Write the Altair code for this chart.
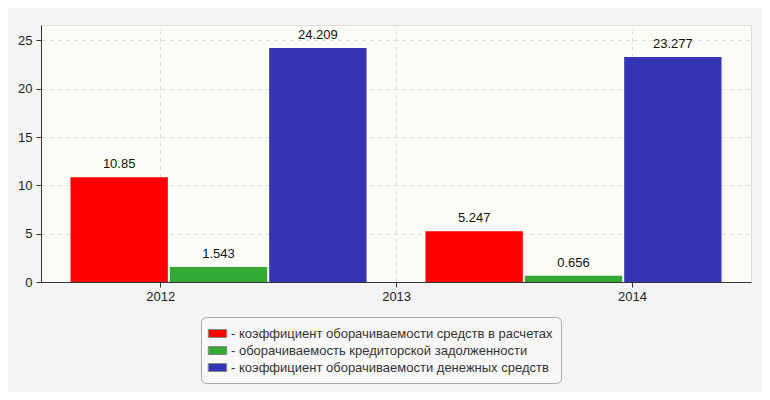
import altair as alt
import pandas as pd

periods = ["2012–2013", "2013–2014"]
series = [
    "коэффициент оборачиваемости средств в расчетах",
    "оборачиваемость кредиторской задолженности",
    "коэффициент оборачиваемости денежных средств",
]
values_p1 = [10.85, 1.543, 24.209]
values_p2 = [5.247, 0.656, 23.277]
labels_p1 = ["10.85", "1.543", "24.209"]
labels_p2 = ["5.247", "0.656", "23.277"]
axis_years = [2012, 2013, 2014]
y_ticks = [0, 5, 10, 15, 20, 25]
colors = ["#ff0000", "#33aa33", "#3535b5"]

legend_names = ["- " + s for s in series]
rows = []
for p, vals, labs in [(periods[0], values_p1, labels_p1), (periods[1], values_p2, labels_p2)]:
    for s, v, l in zip(legend_names, vals, labs):
        rows.append({"period": p, "series": s, "value": v, "label": l})
df = pd.DataFrame(rows)

FONT = "Liberation Sans"

x_band = alt.X(
    "period:N", sort=periods, axis=None,
    scale=alt.Scale(paddingInner=0.166, paddingOuter=0.083),
)
x_off = alt.XOffset(
    "series:N", sort=legend_names,
    scale=alt.Scale(paddingInner=0.02, paddingOuter=0),
)
y_enc = alt.Y(
    "value:Q",
    scale=alt.Scale(domain=[0, 26.6], nice=False),
    axis=alt.Axis(values=y_ticks, title=None, grid=True, gridDash=[4, 4],
                  gridColor="#dddddd", domainColor="#333333", tickColor="#333333",
                  tickSize=5, labelPadding=4, labelFontSize=13, labelFont=FONT,
                  labelColor="#222222"),
)

bars = alt.Chart(df).mark_bar().encode(
    x=x_band,
    xOffset=x_off,
    y=y_enc,
    color=alt.Color(
        "series:N", sort=legend_names,
        scale=alt.Scale(domain=legend_names, range=colors),
        legend=alt.Legend(
            title=None, orient="none", legendX=160, legendY=292,
            fillColor="#f8f8f8", strokeColor="#aaaaaa", cornerRadius=5, padding=8,
            symbolType="M-1.15,-0.5L1.15,-0.5L1.15,0.5L-1.15,0.5Z", symbolSize=256,
            symbolStrokeColor="#888888", symbolStrokeWidth=1,
            labelFontSize=13, labelFont=FONT, labelColor="#333333",
            labelLimit=600, labelOffset=5, rowPadding=1,
        ),
    ),
)

text = alt.Chart(df).mark_text(
    dy=-9, baseline="alphabetic", fontSize=13, font=FONT, color="#111111"
).encode(
    x=x_band,
    xOffset=x_off,
    y=alt.Y("value:Q"),
    text="label:N",
)

axis_layer = alt.Chart(pd.DataFrame({"year": axis_years})).mark_point(opacity=0).encode(
    x=alt.X(
        "year:Q",
        scale=alt.Scale(domain=[2011.494, 2014.505], nice=False, zero=False),
        axis=alt.Axis(values=axis_years, format="d", orient="bottom", title=None,
                      grid=True, gridDash=[4, 4], gridColor="#dddddd",
                      domainColor="#333333", tickColor="#333333", tickSize=5,
                      labelPadding=3, labelFontSize=13, labelFont=FONT,
                      labelColor="#222222"),
    )
)

chart = alt.layer(bars, text, axis_layer).resolve_scale(x="independent").properties(
    width=710, height=257,
    autosize=alt.AutoSizeParams(type="none"),
    padding={"left": 33, "top": 17, "right": 11, "bottom": 110},
    background="#f4f4f4",
).configure_view(
    fill="#fcfcf7", stroke="#dddddd"
)

chart.save("out.html", embed_options={"renderer": "svg", "actions": False})
